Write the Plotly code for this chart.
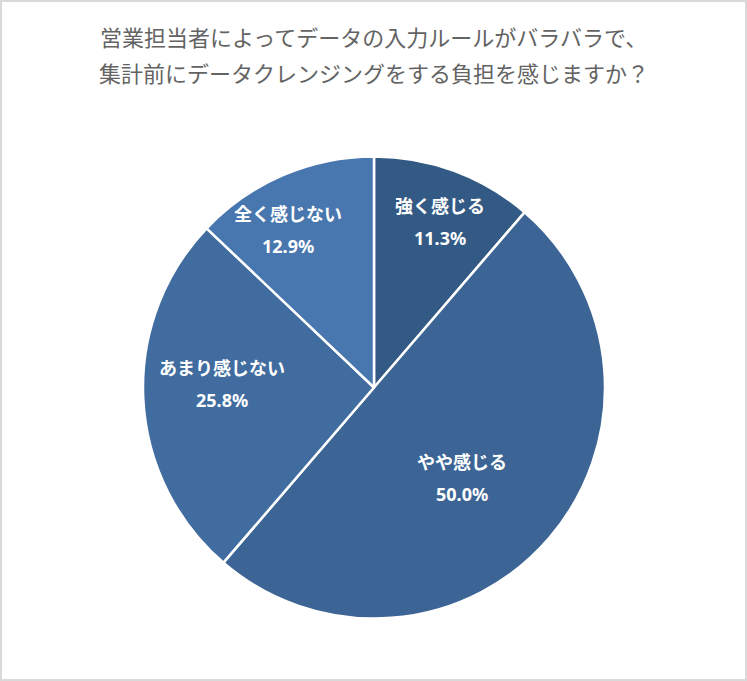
import math
import plotly.graph_objects as go

labels = ["強く感じる", "やや感じる", "あまり感じない", "全く感じない"]
values = [11.3, 50.0, 25.8, 12.9]
colors = ["#335A84", "#3C6595", "#416C9F", "#4876AE"]

title_lines = [
    "営業担当者によってデータの入力ルールがバラバラで、",
    "集計前にデータクレンジングをする負担を感じますか？",
]

W, H = 747, 681
cx, cy, r = 374, 387.5, 231

# where the data labels sit inside each slice (like Excel's "best fit")
label_radius = [0.773, 0.545, 0.658, 0.775]
label_angle_shift = [1.4, 5.1, 4.3, -5.4]

fig = go.Figure(go.Pie(
    labels=labels,
    values=values,
    sort=False,
    direction="clockwise",
    rotation=0,
    marker=dict(colors=colors, line=dict(color="white", width=2.5)),
    textinfo="none",
    hoverinfo="skip",
    domain=dict(x=[(cx - r) / W, (cx + r) / W], y=[(H - cy - r) / H, (H - cy + r) / H]),
    showlegend=False,
))

annotations = []
for i, line in enumerate(title_lines):
    annotations.append(dict(
        text=line, x=0.5, y=1 - (36.5 + 35.5 * i) / H, xref="paper", yref="paper",
        xanchor="center", yanchor="middle", showarrow=False,
        font=dict(family="Noto Sans CJK JP", size=22, color="#636363"),
    ))

total = sum(values)
start = 0
for lab, val, rf, sh in zip(labels, values, label_radius, label_angle_shift):
    mid = (start + val / 2) / total * 360 + sh
    start += val
    d = rf * r
    px_ = cx + d * math.sin(math.radians(mid))
    py_ = cy - d * math.cos(math.radians(mid))
    for txt, off in [(lab, -16), (f"{val:.1f}%", 16)]:
        annotations.append(dict(
            text=txt, x=px_ / W, y=1 - (py_ + off) / H, xref="paper", yref="paper",
            xanchor="center", yanchor="middle", showarrow=False,
            font=dict(family="Noto Sans, Noto Sans CJK JP", size=18, color="white", weight="bold"),
        ))

fig.update_layout(
    width=W,
    height=H,
    margin=dict(l=0, r=0, t=0, b=0),
    paper_bgcolor="white",
    annotations=annotations,
    shapes=[
        dict(type="rect", xref="paper", yref="paper", x0=0, y0=0, x1=1, y1=1,
             line=dict(color="#D9D9D9", width=4)),
    ],
)

fig.write_html("out.html", config={"displayModeBar": False},
               post_script="document.body.style.margin='0';document.body.style.overflow='hidden';")
